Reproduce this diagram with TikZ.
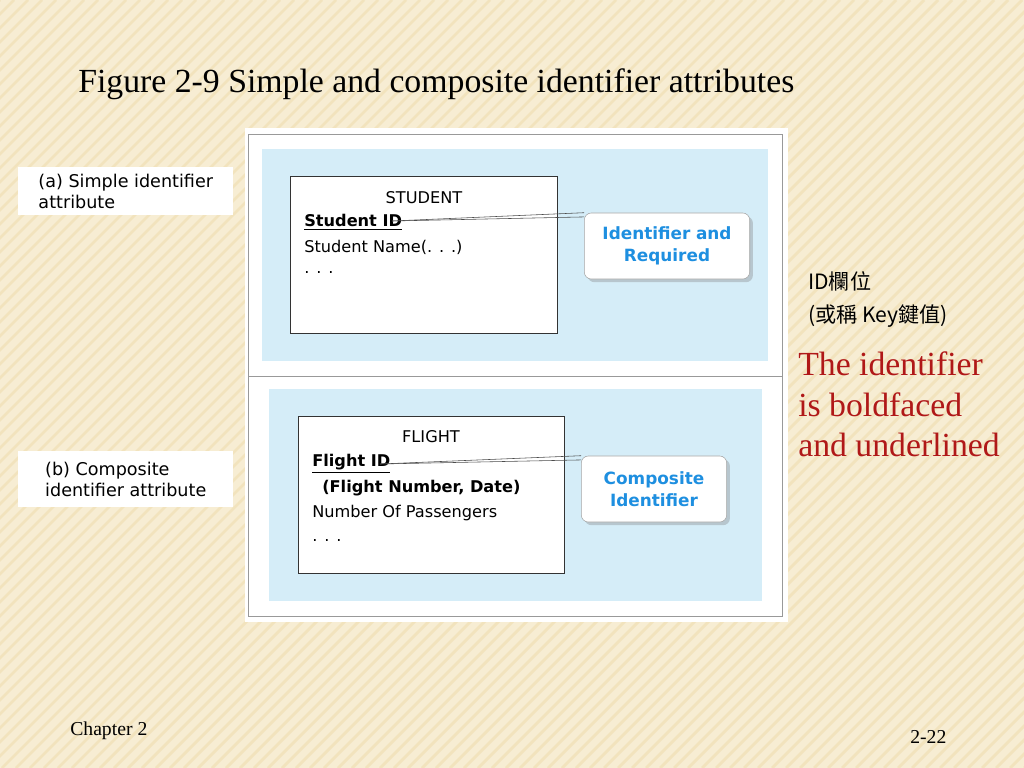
\documentclass[tikz,border=0pt]{standalone}
\usepackage{fontspec}
\setmainfont{Liberation Serif}
\setsansfont{DejaVu Sans}
\newfontfamily\cjkfont{Noto Sans CJK TC}
\usepackage{xcolor}
\usetikzlibrary{shadows}
\definecolor{bgcream}{HTML}{F7EDD3}
\definecolor{stripe}{HTML}{F2E3BD}
\definecolor{paleblue}{HTML}{D5EDF8}
\definecolor{callblue}{HTML}{1E8FE0}
\definecolor{darkred}{HTML}{B01818}
\tikzset{
  attr/.style={anchor=west, inner sep=0pt, font=\sffamily\fontsize{11.5}{14}\selectfont},
  callout/.style={draw=gray!70, fill=white, rounded corners=5pt, drop shadow={opacity=.35},
    align=center, font=\sffamily\bfseries\fontsize{12}{16}\selectfont, text=callblue},
  sidelabel/.style={fill=white, anchor=north west, align=left, inner sep=3pt,
    font=\sffamily\fontsize{12.5}{15}\selectfont},
  redtext/.style={anchor=west, inner sep=0pt, text=darkred, font=\fontsize{24}{28}\selectfont}
}
\begin{document}
\begin{tikzpicture}[x=0.025cm, y=-0.025cm]

%% background
\useasboundingbox (0,0) rectangle (1024,768);
\begin{scope}
\clip (0,0) rectangle (1024,768);
\fill[bgcream] (0,0) rectangle (1024,768);
\foreach \k in {0,14,...,1800} {
  \draw[stripe, line width=2pt] (\k,0) -- (\k-768,768);
}
\end{scope}

%% title
\node[anchor=west, inner sep=0pt, font=\fontsize{24}{28}\selectfont] (title) at (78,84) {Figure 2-9 Simple and composite identifier attributes};

%% panel
\fill[white] (245,128) rectangle (788,622);
\draw[gray!80] (248,134) rectangle (782,616);
\draw[gray!80] (248,376) -- (782,376);
\fill[paleblue] (262,149) rectangle (768,361);
\fill[paleblue] (269,389) rectangle (762,601);

%% student
\draw[black!80, fill=white] (290,176) rectangle (557,333);
\node[font=\sffamily\fontsize{11.5}{14}\selectfont] (student) at (424,198) {STUDENT};
\node[attr, font=\sffamily\bfseries\fontsize{11.5}{14}\selectfont] (sid) at (304,222) {\underline{Student ID}};
\node[attr] (sname) at (304,247) {Student Name(. . .)};
\node[attr] (sdots) at (304,272) {. . .};
\node[callout, text width=3.9cm, minimum height=1.65cm] (idreq) at (667,246) {Identifier and\\Required};

%% flight
\draw[black!80, fill=white] (298,416) rectangle (564,573);
\node[font=\sffamily\fontsize{11.5}{14}\selectfont] (flight) at (431,437) {FLIGHT};
\node[attr, font=\sffamily\bfseries\fontsize{11.5}{14}\selectfont] (fid) at (312,464) {\underline{Flight ID}};
\node[attr, font=\sffamily\bfseries\fontsize{11.5}{14}\selectfont] (fkey) at (322,488) {(Flight Number, Date)};
\node[attr] (fpass) at (312,513) {Number Of Passengers};
\node[attr] (fdots) at (312,540) {. . .};
\node[callout, text width=3.4cm, minimum height=1.65cm] (compid) at (654,489) {Composite\\Identifier};

%% leader lines
\coordinate (sidend) at (392,221);
\coordinate (fidend) at (380,464);
\path[-, black!70] (sidend) edge (idreq.north west);
\path[-, black!70] (sidend) edge ([yshift=-3pt]idreq.north west);
\path[-, black!70] (fidend) edge (compid.north west);
\path[-, black!70] (fidend) edge ([yshift=-3pt]compid.north west);

%% side labels
\node[sidelabel, minimum width=215*0.025cm, minimum height=48*0.025cm] (sa) at (18,167) {(a) Simple identifier\\attribute};
\node[sidelabel, minimum width=215*0.025cm, minimum height=56*0.025cm] (sb) at (18,451) {(b) Composite\\identifier attribute};

%% right notes
\node[anchor=west, inner sep=0pt, font=\cjkfont\fontsize{15}{18}\selectfont] (idcol) at (808,281) {ID欄位};
\node[anchor=west, inner sep=0pt, font=\cjkfont\fontsize{15}{18}\selectfont] (keycol) at (808,316) {(或稱 Key鍵值)};
\node[redtext] (r1) at (798,364) {The identifier};
\node[redtext] (r2) at (798,405) {is boldfaced};
\node[redtext] (r3) at (798,445) {and underlined};

%% footer
\node[anchor=west, inner sep=0pt, font=\fontsize{14}{16}\selectfont] (chap) at (70,731) {Chapter 2};
\node[anchor=west, inner sep=0pt, font=\fontsize{14}{16}\selectfont] (page) at (910,737) {2-22};

\end{tikzpicture}
\end{document}
